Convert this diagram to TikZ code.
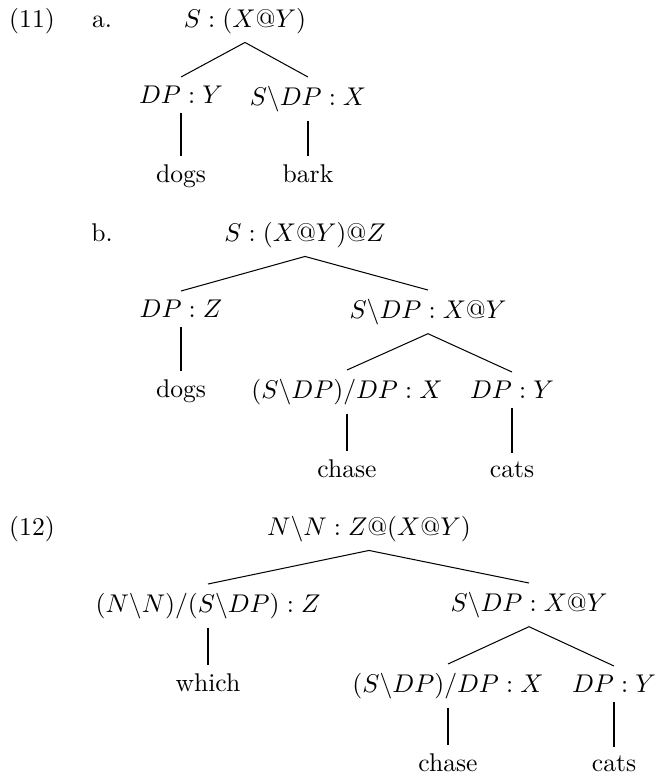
\documentclass[tikz,border=0pt]{standalone}
\usepackage{amsmath}
\usepackage{amssymb}
\usepackage{pgf, tikz}
\usepackage{xcolor}

\begin{document}
\begin{tikzpicture}[
            x = 0.3906pt, y = -0.3906pt, % one unit = one pixel, y down
            cat/.style = {anchor=north}, % tree node hangs from its edge
            top/.style = {anchor=base}, % roots and example numbers
            thin % line style
        ]
\useasboundingbox (0,0) rectangle (657,779);

% (11) a.
\node[top] (n11) at (32,27) {(11)};
\node[top] (la) at (102,27) {a.};
\node[top] (aRoot) at (245,27) {$S : (X@Y)$};
\node[cat] (aDP) at (181,77) {$DP : Y$};
\node[cat] (aIV) at (308,77) {$S\backslash DP : X$};
\node[cat] (aDogs) at (181,156) {dogs};
\node[cat] (aBark) at (308,156) {bark};

\draw (aRoot.south) -- (aDP.north);
\draw (aRoot.south) -- (aIV.north);
\draw (aDP.south) -- (aDogs.north);
\draw (aIV.south) -- (aBark.north);

% b.
\node[top] (lb) at (102,241) {b.};
\node[top] (bRoot) at (305,241) {$S : (X@Y)@Z$};
\node[cat] (bDP) at (181,291) {$DP : Z$};
\node[cat] (bVP) at (428,290) {$S\backslash DP : X@Y$};
\node[cat] (bDogs) at (181,371) {dogs};
\node[cat] (bTV) at (347,370) {$(S\backslash DP)/DP : X$};
\node[cat] (bObj) at (512,372) {$DP : Y$};
\node[cat] (bChase) at (347,451) {chase};
\node[cat] (bCats) at (512,453) {cats};

\draw (bRoot.south) -- (bDP.north);
\draw (bRoot.south) -- (bVP.north);
\draw (bDP.south) -- (bDogs.north);
\draw (bVP.south) -- (bTV.north);
\draw (bVP.south) -- (bObj.north);
\draw (bTV.south) -- (bChase.north);
\draw (bObj.south) -- (bCats.north);

% (12)
\node[top] (n12) at (32,535) {(12)};
\node[top] (cRoot) at (369,535) {$N\backslash N : Z@(X@Y)$};
\node[cat] (cRel) at (208,584) {$(N\backslash N)/(S\backslash DP) : Z$};
\node[cat] (cVP) at (529,583) {$S\backslash DP : X@Y$};
\node[cat] (cWhich) at (208,665) {which};
\node[cat] (cTV) at (448,664) {$(S\backslash DP)/DP : X$};
\node[cat] (cObj) at (614,666) {$DP : Y$};
\node[cat] (cChase) at (448,745) {chase};
\node[cat] (cCats) at (614,747) {cats};

\draw (cRoot.south) -- (cRel.north);
\draw (cRoot.south) -- (cVP.north);
\draw (cRel.south) -- (cWhich.north);
\draw (cVP.south) -- (cTV.north);
\draw (cVP.south) -- (cObj.north);
\draw (cTV.south) -- (cChase.north);
\draw (cObj.south) -- (cCats.north);

\end{tikzpicture}
\end{document}
